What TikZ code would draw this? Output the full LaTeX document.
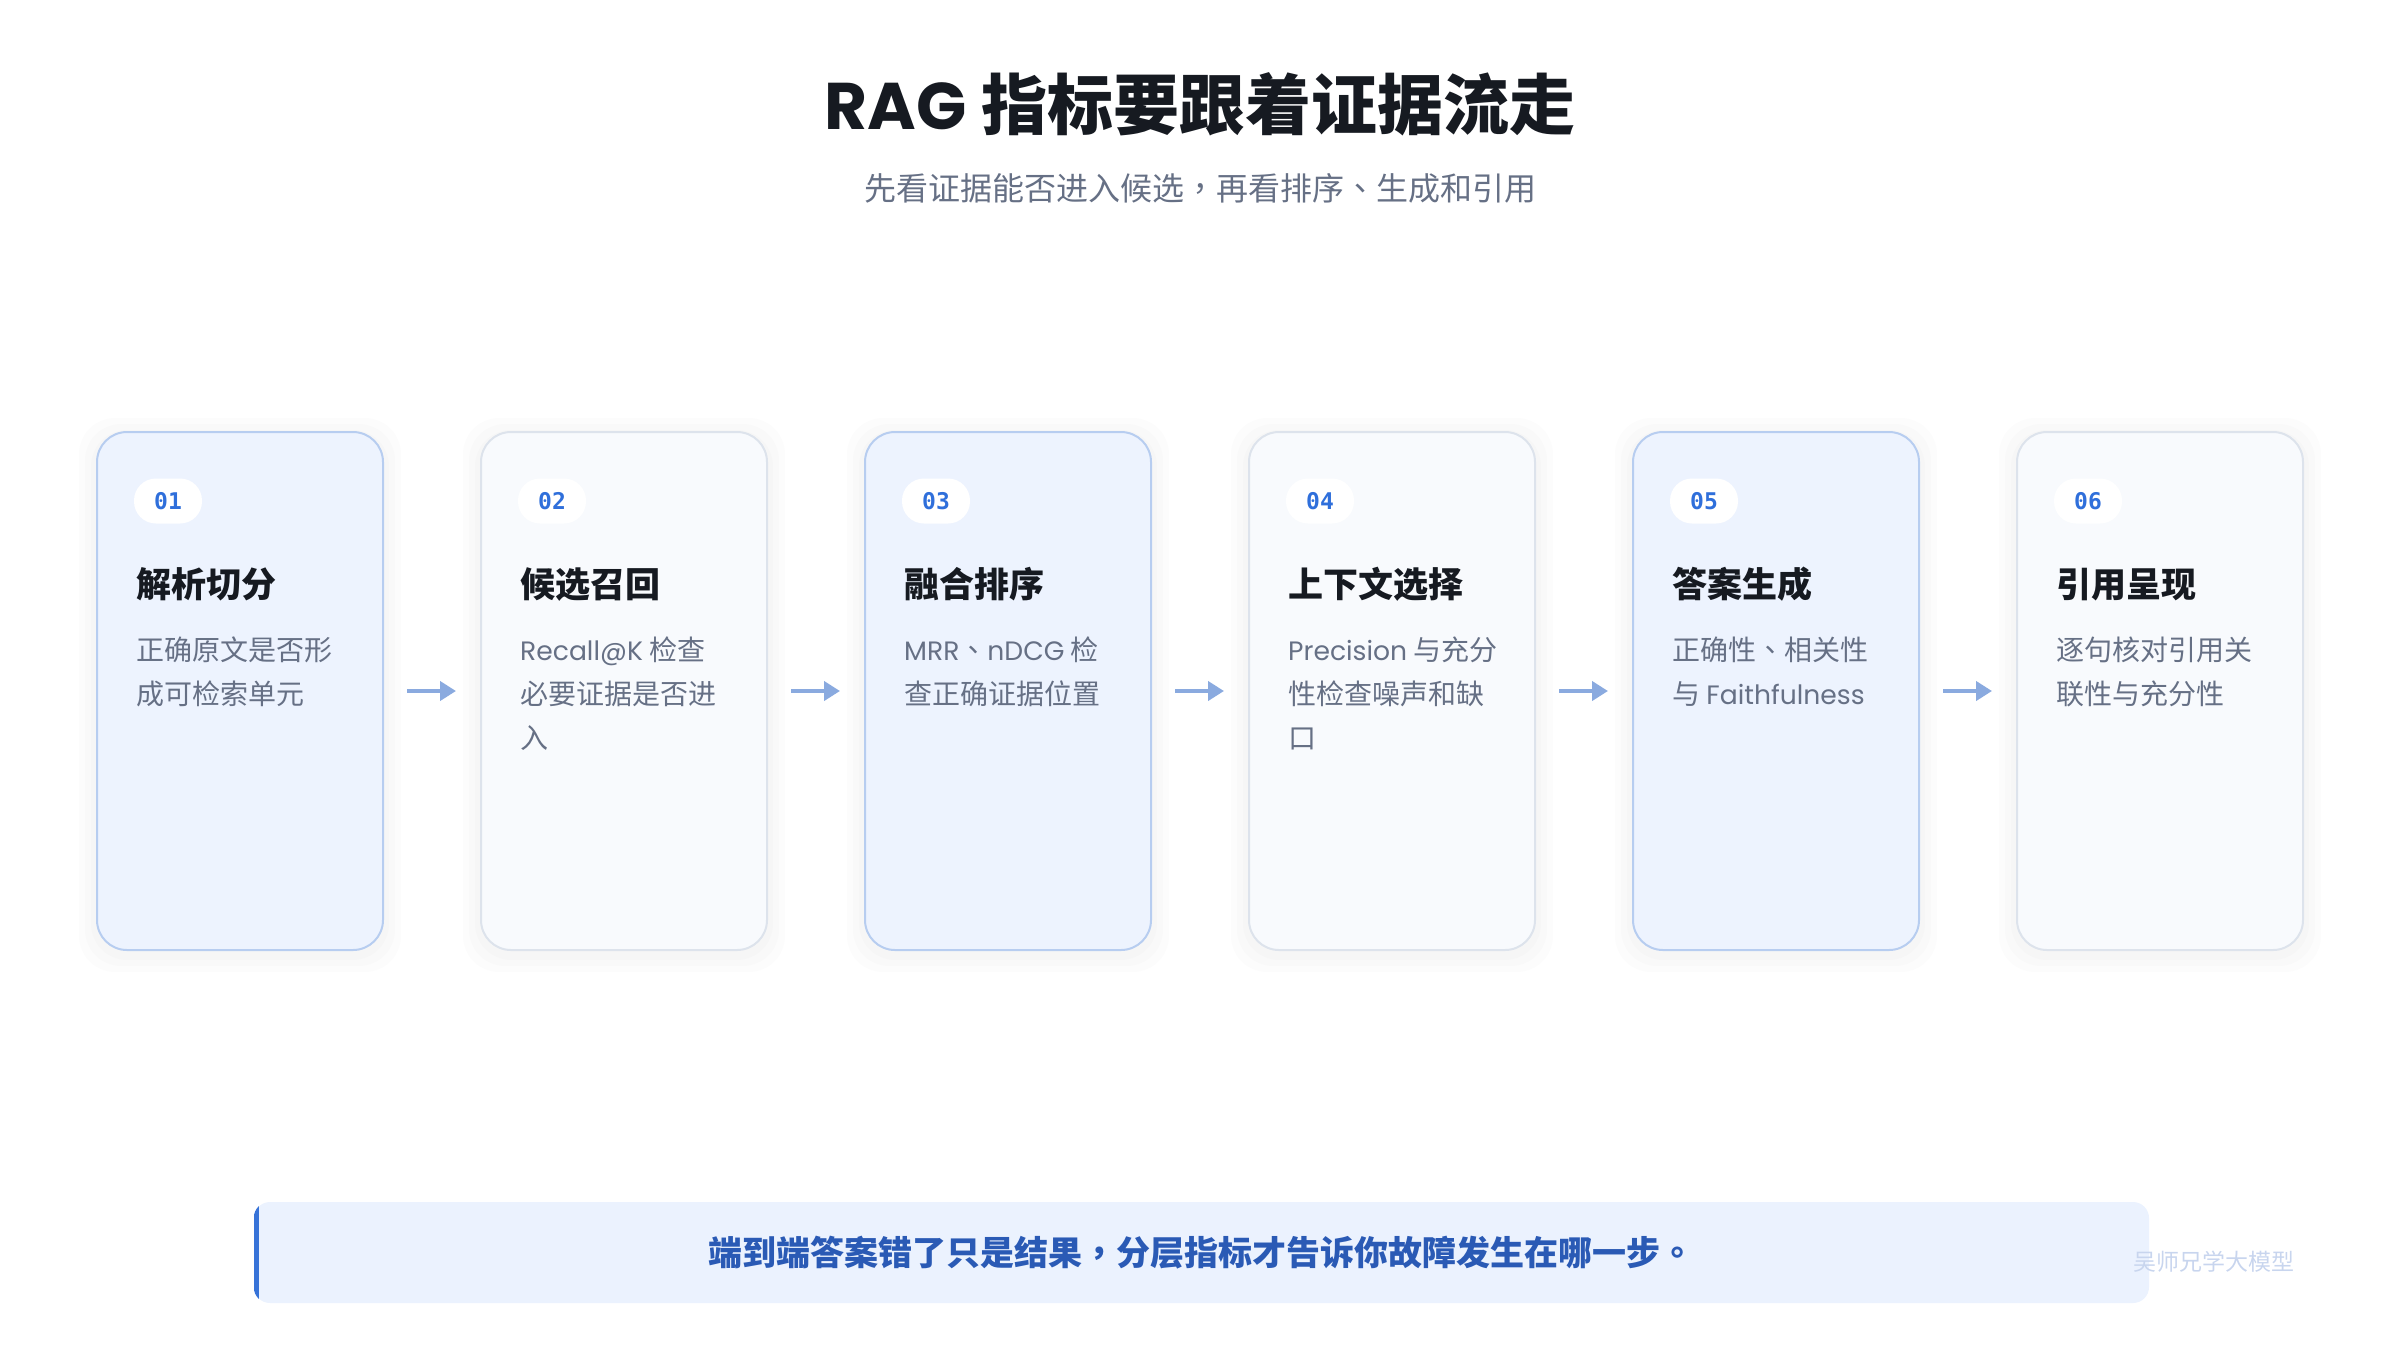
\documentclass[tikz,border=0pt]{standalone}
\usepackage{fontspec}
\setmainfont{Noto Sans CJK SC}
\newfontfamily\headfont{Poppins}
\newfontfamily\latfont{Poppins}[Scale=0.95]
\newfontfamily\numfont{DejaVu Sans Mono}
\newfontfamily\tcfont{Noto Sans CJK TC}
\newcommand\pc[1]{{\tcfont #1}}
\usetikzlibrary{positioning,arrows.meta,backgrounds}

\definecolor{inkdark}{HTML}{161A21}
\definecolor{inkgray}{HTML}{667085}
\definecolor{cardblue}{HTML}{EDF3FE}
\definecolor{edgeblue}{HTML}{B7CDF0}
\definecolor{cardgray}{HTML}{F8FAFD}
\definecolor{edgegray}{HTML}{DDE3EC}
\definecolor{numblue}{HTML}{2F6FDB}
\definecolor{arrowblue}{HTML}{8AAADF}
\definecolor{notefill}{HTML}{EBF2FE}
\definecolor{noteblue}{HTML}{3773D8}
\definecolor{notetext}{HTML}{2A5AB5}
\definecolor{markgray}{HTML}{C8D5EE}

\begin{document}
\begin{tikzpicture}[
    x=1pt, y=-1pt,
    card/.style={
        draw,
        line width=2pt,
        rounded corners=30pt,
        minimum width=286pt,
        minimum height=518pt
    },
    cardodd/.style={card, fill=cardblue, draw=edgeblue},
    cardeven/.style={card, fill=cardgray, draw=edgegray},
    badge/.style={
        fill=white,
        rounded corners=22pt,
        minimum width=68pt,
        minimum height=45pt,
        inner sep=0pt,
        text=numblue,
        font=\numfont\bfseries\fontsize{23}{23}\selectfont
    },
    steptitle/.style={
        anchor=base west,
        inner sep=0pt,
        text=inkdark,
        font=\bfseries\fontsize{35}{35}\selectfont
    },
    steptext/.style={
        anchor=north west,
        inner sep=0pt,
        align=left,
        text=inkgray,
        font=\fontsize{28}{44}\selectfont
    },
    flow/.style={
        draw=arrowblue,
        line width=4pt,
        -{Triangle[length=16pt,width=19pt]},
        shorten <=23pt,
        shorten >=24pt
    }
]
\useasboundingbox (0,0) rectangle (2400,1350);

% Heading
\node[anchor=base, inner sep=0pt, text=inkdark, font=\bfseries\fontsize{66}{66}\selectfont]
    (title) at (1200,129) {{\headfont RAG} 指标要跟着证据流走};
\node[anchor=base, inner sep=0pt, text=inkgray, font=\fontsize{32}{32}\selectfont]
    (subtitle) at (1200,200) {先看证据能否进入候选\pc{，}再看排序\pc{、}生成和引用};

% Cards
\node[cardodd] (c1) at (240,691) {};
\node[cardeven] (c2) at (624,691) {};
\node[cardodd] (c3) at (1008,691) {};
\node[cardeven] (c4) at (1392,691) {};
\node[cardodd] (c5) at (1776,691) {};
\node[cardeven] (c6) at (2160,691) {};

\begin{scope}[on background layer]
\foreach \c in {c1,c2,c3,c4,c5,c6}
    \foreach \s in {5,11,17}
        \fill[black, opacity=0.012, rounded corners=36pt]
            ([shift={(-\s,-\s+4)}]\c.north west) rectangle ([shift={(\s,\s+4)}]\c.south east);
\end{scope}

% Numbers
\node[badge] (b1) at (168,501) {01};
\node[badge] (b2) at (552,501) {02};
\node[badge] (b3) at (936,501) {03};
\node[badge] (b4) at (1320,501) {04};
\node[badge] (b5) at (1704,501) {05};
\node[badge] (b6) at (2088,501) {06};

% Step names
\node[steptitle] (t1) at (136,597) {解析切分};
\node[steptitle] (t2) at (520,597) {候选召回};
\node[steptitle] (t3) at (904,597) {融合排序};
\node[steptitle] (t4) at (1288,597) {上下文选择};
\node[steptitle] (t5) at (1672,597) {答案生成};
\node[steptitle] (t6) at (2056,597) {引用呈现};

% Step checks
\node[steptext] (d1) at (136,637) {正确原文是否形\\成可检索单元};
\node[steptext] (d2) at (520,637) {{\latfont Recall@K} 检查\\必要证据是否进\\入};
\node[steptext] (d3) at (904,637) {{\latfont MRR}\pc{、}{\latfont nDCG} 检\\查正确证据位置};
\node[steptext] (d4) at (1288,637) {{\latfont Precision} 与充分\\性检查噪声和缺\\口};
\node[steptext] (d5) at (1672,637) {正确性\pc{、}相关性\\与 {\latfont Faithfulness}};
\node[steptext] (d6) at (2056,637) {逐句核对引用关\\联性与充分性};

% Flow
\draw[flow] (c1) -- (c2);
\draw[flow] (c2) -- (c3);
\draw[flow] (c3) -- (c4);
\draw[flow] (c4) -- (c5);
\draw[flow] (c5) -- (c6);

% Takeaway
\node[fill=notefill, rounded corners=16pt, minimum width=1895pt, minimum height=101pt,
      text=notetext, font=\bfseries\fontsize{34}{34}\selectfont]
    (note) at (1201.5,1252.5) {端到端答案错了只是结果\pc{，}分层指标才告诉你故障发生在哪一步\pc{。}};
\begin{scope}
\clip[rounded corners=16pt] (note.north west) rectangle (note.south east);
\fill[noteblue] (note.north west) rectangle ([xshift=5pt]note.south west);
\end{scope}

\node[anchor=base, inner sep=0pt, text=markgray, font=\fontsize{23}{23}\selectfont]
    (mark) at (2214,1270) {吴师兄学大模型};
\end{tikzpicture}
\end{document}
